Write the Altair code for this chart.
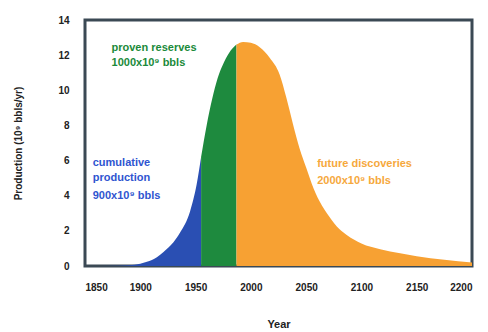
import altair as alt
import pandas as pd

# Curve (year, production in 10^9 bbls/yr)
blue_years = [1850, 1880, 1890, 1900, 1906, 1915, 1921, 1930, 1936, 1945, 1951, 1955]
blue_vals = [0.0, 0.02, 0.04, 0.13, 0.24, 0.5, 0.8, 1.35, 1.9, 3.1, 4.65, 6.2]
green_years = [1955, 1960, 1965, 1970, 1975, 1980, 1987]
green_vals = [6.2, 8.0, 9.5, 10.7, 11.5, 12.1, 12.6]
orange_years = [1987, 1993, 2000, 2008, 2017, 2026, 2032, 2038, 2044, 2050, 2055,
                2062, 2071, 2080, 2087, 2100, 2117, 2135, 2150, 2175, 2200]
orange_vals = [12.6, 12.75, 12.7, 12.45, 11.85, 10.9, 9.6, 8.1, 6.7, 5.6, 4.7,
               3.7, 2.8, 2.1, 1.75, 1.28, 0.95, 0.72, 0.55, 0.35, 0.2]

segments = ["cumulative", "reserves", "future"]
seg_colors = ["#2a4fb3", "#1e8a3e", "#f7a133"]

x_ticks = [1850, 1900, 1950, 2000, 2050, 2100, 2150, 2200]
y_ticks = [0, 2, 4, 6, 8, 10, 12, 14]

# annotations
ann_lines = ["cumulative", "production", "900x10⁹ bbls",
             "proven reserves", "1000x10⁹ bbls",
             "future discoveries", "2000x10⁹ bbls"]
ann_x = [1857, 1857, 1857, 1874, 1874, 2060, 2060]
ann_y = [5.86, 5.0, 4.0, 12.4, 11.55, 5.8, 4.84]
ann_seg = ["cumulative", "cumulative", "cumulative", "reserves", "reserves", "future", "future"]
ann_colors = ["#2f55d0", "#1a8a3a", "#f6a83c"]

rows = []
for s, ys, vs in zip(segments, [blue_years, green_years, orange_years],
                     [blue_vals, green_vals, orange_vals]):
    for y, v in zip(ys, vs):
        rows.append({"year": y, "prod": v, "seg": s})
df = pd.DataFrame(rows)
ann = pd.DataFrame({"text": ann_lines, "year": ann_x, "prod": ann_y, "seg": ann_seg})

xscale = alt.Scale(domain=[1850, 2200], nice=False)
yscale = alt.Scale(domain=[0, 14], nice=False)

xaxis = alt.Axis(values=x_ticks, format="d", ticks=False, domain=False,
                 grid=False, labelPadding=16, labelFontSize=10,
                 labelFontWeight="bold", titleFontSize=11,
                 titleFontWeight="bold", titlePadding=26,
                 labelFont="Liberation Sans", titleFont="Liberation Sans",
                 labelColor="#222", titleColor="#222", labelOverlap=False)
yaxis = alt.Axis(values=y_ticks, ticks=False, domain=False, grid=False,
                 labelPadding=16, labelFontSize=10, labelFontWeight="bold",
                 titleFontSize=10, titleFontWeight="bold", titlePadding=34,
                 labelFont="Liberation Sans", titleFont="Liberation Sans",
                 labelColor="#222", titleColor="#222", labelOverlap=False)

xtitle = "Year"
ytitle = "Production (10⁹ bbls/yr)"

area = alt.Chart(df).mark_area(interpolate="monotone").encode(
    x=alt.X("year:Q", scale=xscale, title=xtitle, axis=xaxis),
    y=alt.Y("prod:Q", scale=yscale, stack=None, title=ytitle, axis=yaxis),
    color=alt.Color("seg:N", scale=alt.Scale(domain=segments, range=seg_colors), legend=None),
)

text = alt.Chart(ann).mark_text(align="left", baseline="middle", fontSize=11,
                                fontWeight="bold", font="Liberation Sans").encode(
    x=alt.X("year:Q", scale=xscale, title=xtitle, axis=xaxis),
    y=alt.Y("prod:Q", scale=yscale, title=ytitle, axis=yaxis),
    text="text:N",
    color=alt.Color("seg:N", scale=alt.Scale(domain=segments, range=ann_colors), legend=None),
)

chart = alt.layer(area, text).resolve_scale(color="independent").properties(
    width=387, height=246, padding={"left": 5, "top": 7, "right": 5, "bottom": 0}
).configure(background="white").configure_view(stroke="#3b4954", strokeWidth=3)

chart.save("out.html", embed_options={"renderer": "svg", "actions": False})
